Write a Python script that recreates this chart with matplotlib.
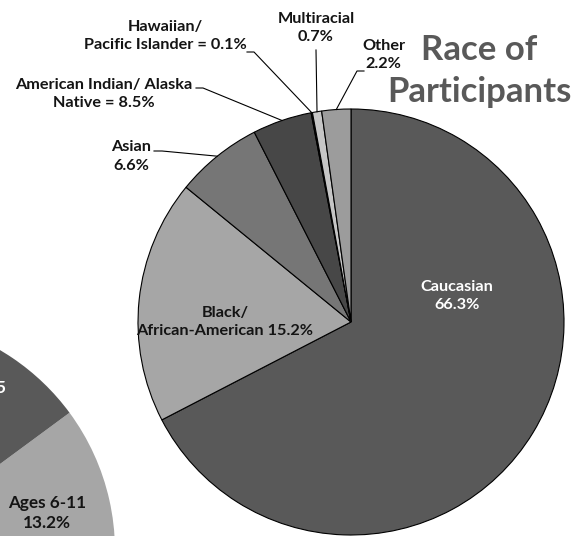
import matplotlib
matplotlib.use("Agg")
import matplotlib.pyplot as plt
import numpy as np

plt.rcParams['font.family'] = ['Lato', 'DejaVu Sans']
plt.rcParams['font.weight'] = 'bold'

# race of participants (slice sizes as drawn, labels as printed)
races = ["Caucasian", "Black/African-American", "Asian", "American Indian/Alaska Native",
         "Hawaiian/Pacific Islander", "Multiracial", "Other"]
race_pct = [67.4, 18.5, 6.6, 4.5, 0.1, 0.7, 2.2]
race_text = ["Caucasian\n66.3%", "Black/\nAfrican-American 15.2%", "Asian\n6.6%",
             "American Indian/ Alaska\nNative = 8.5%", "Hawaiian/\nPacific Islander = 0.1%",
             "Multiracial\n0.7%", "Other\n2.2%"]
race_colors = ["#595959", "#a6a6a6", "#767676", "#474747", "#1c1c1c", "#c6c6c6", "#9c9c9c"]

# neighbouring age chart, only a corner of it is inside the figure
ages = ["Ages 6-11", "Ages 0-5"]
age_pct = [13.2, 86.8]
age_colors = ["#a6a6a6", "#595959"]

W, H = 587, 536
fig = plt.figure(figsize=(W / 100, H / 100), dpi=100)
ax = fig.add_axes([0, 0, 1, 1])

# main pie (pixel coordinates, y pointing down)
cx, cy, R = 351, 322, 213
wedges, _ = ax.pie(race_pct, colors=race_colors, startangle=-90, counterclock=True,
                   center=(cx, cy), radius=R,
                   wedgeprops=dict(edgecolor="black", linewidth=0.8))

# age pie, cut by the figure edge
ax.pie(age_pct, colors=age_colors, startangle=-36.4, counterclock=True,
       center=(-118, 551), radius=233, wedgeprops=dict(linewidth=0))

ax.set_xlim(0, W)
ax.set_ylim(H, 0)
ax.set_aspect("auto")
ax.axis("off")

def edge_point(w):
    a = np.deg2rad((w.theta1 + w.theta2) / 2)
    return cx + R * np.cos(a), cy + R * np.sin(a)

fs = 11.7
dark = "#141414"

# labels inside the pie
ax.text(457, 296, race_text[0], ha="center", va="center", color="white",
        fontsize=fs, linespacing=1.3)
ax.text(225, 322, race_text[1], ha="center", va="center", color=dark,
        fontsize=fs, linespacing=1.3)

# outside labels with leader lines
label_pos = {2: (131, 156.5), 3: (103.5, 94), 4: (165, 36), 5: (316, 28), 6: (383.5, 55)}
leader_start = {2: [(154, 151), (162, 151)], 3: [(196, 88), (203, 88)],
                4: [(247, 52), (254, 52)], 5: [(316, 50)], 6: [(364, 71), (357, 71)]}
for i, (x, y) in label_pos.items():
    ax.text(x, y, race_text[i], ha="center", va="center", color=dark,
            fontsize=fs, linespacing=1.4)
    pts = leader_start[i] + [edge_point(wedges[i])]
    ax.plot([p[0] for p in pts], [p[1] for p in pts], color="black", lw=0.8)

# title
ax.text(479, 60, "Race of", ha="center", va="baseline", color="#595959", fontsize=25)
ax.text(479, 102, "Participants", ha="center", va="baseline", color="#595959", fontsize=25)

# age chart labels
ax.text(47, 513, "Ages 6-11\n13.2%", ha="center", va="center", color=dark,
        fontsize=12.3, linespacing=1.3)
ax.text(6, 388, "Ages 0-5", ha="right", va="center", color="white", fontsize=12.3)

fig.savefig("out.png", dpi=100)
